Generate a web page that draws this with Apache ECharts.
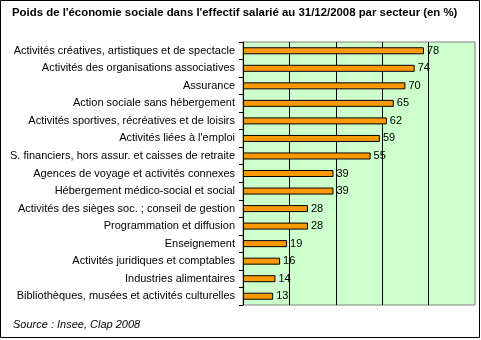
<!DOCTYPE html>
<html><head><meta charset="utf-8">
<script src="https://cdn.jsdelivr.net/npm/echarts@6/dist/echarts.min.js"></script>
<style>html,body{margin:0;padding:0;background:#fff}#c{width:481px;height:340px}</style>
</head><body><div id="c"></div>
<script>
var categories = [
  "Activités créatives, artistiques et de spectacle",
  "Activités des organisations associatives",
  "Assurance",
  "Action sociale sans hébergement",
  "Activités sportives, récréatives et de loisirs",
  "Activités liées à l'emploi",
  "S. financiers, hors assur. et caisses de retraite",
  "Agences de voyage et activités connexes",
  "Hébergement médico-social et social",
  "Activités des sièges soc. ; conseil de gestion",
  "Programmation et diffusion",
  "Enseignement",
  "Activités juridiques et comptables",
  "Industries alimentaires",
  "Bibliothèques, musées et activités culturelles"
];
var values = [78, 74, 70, 65, 62, 59, 55, 39, 39, 28, 28, 19, 16, 14, 13];
var titleBold = "Poids de l'économie sociale dans l'effectif salarié au 31/12/2008 par secteur";
var titleUnit = "(en %)";
var sourceText = "Source : Insee, Clap 2008";

var font = "Arial, 'Liberation Sans', sans-serif";
var chart = echarts.init(document.getElementById('c'), null, {renderer: 'canvas'});
chart.setOption({
  animation: false,
  backgroundColor: '#ffffff',
  textStyle: {fontFamily: font},
  title: [{
    text: '{b|' + titleBold + '}{n| ' + titleUnit + '}',
    left: 7, top: 2,
    textStyle: {rich: {
      b: {fontFamily: font, fontSize: 11.4, fontWeight: 'bold', color: '#000'},
      n: {fontFamily: font, fontSize: 11.4, color: '#000'}
    }}
  }, {
    text: sourceText,
    left: 8, top: 314,
    textStyle: {fontFamily: font, fontSize: 11, fontStyle: 'italic', fontWeight: 'normal', color: '#000'}
  }],
  graphic: [{
    type: 'rect', silent: true, z: -1,
    shape: {x: 0.5, y: 0.5, width: 479, height: 337},
    style: {fill: 'none', stroke: '#000', lineWidth: 1}
  }],
  grid: {
    left: 243, top: 42, width: 232, height: 263,
    show: true, backgroundColor: '#ccffcc', borderColor: '#808080', borderWidth: 1
  },
  xAxis: {
    type: 'value', min: 0, max: 100, interval: 20,
    axisLabel: {show: false}, axisTick: {show: false}, axisLine: {show: false},
    splitLine: {show: true, showMinLine: false, showMaxLine: false, lineStyle: {color: '#000', width: 1}}
  },
  yAxis: {
    type: 'category', data: categories, inverse: true,
    axisLine: {show: true, lineStyle: {color: '#000', width: 1}},
    axisTick: {show: true, length: 4, lineStyle: {color: '#000'}},
    axisLabel: {fontFamily: font, fontSize: 11, color: '#000', margin: 8}
  },
  series: [{
    type: 'bar', data: values, barWidth: 7,
    itemStyle: {color: '#ff9900', borderColor: '#000', borderWidth: 1},
    label: {show: true, position: 'right', distance: 3, fontFamily: font, fontSize: 11, color: '#000'}
  }]
});
</script></body></html>
